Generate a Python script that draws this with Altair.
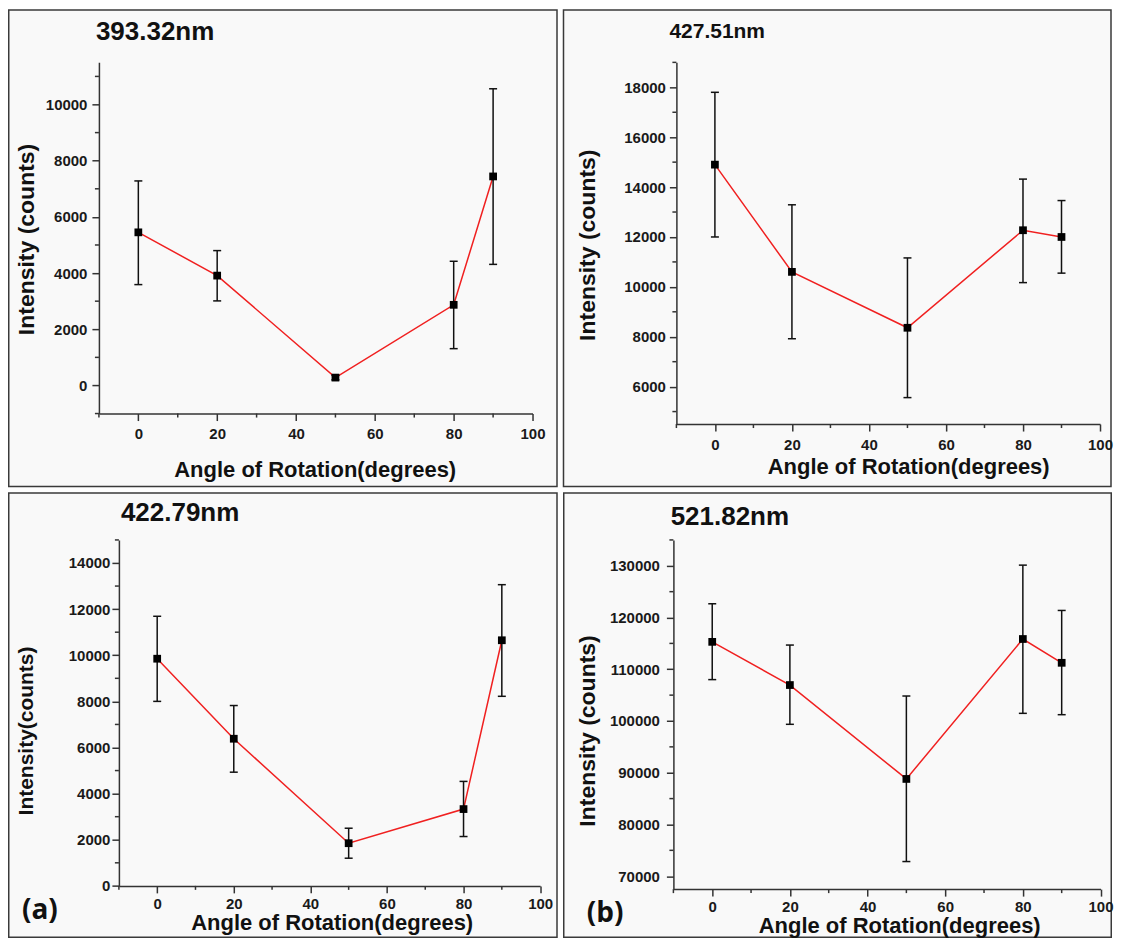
import altair as alt
import pandas as pd

# ---------------- data ----------------
angles = [0, 20, 50, 80, 90]

titles = ["393.32nm", "427.51nm", "422.79nm", "521.82nm"]
panel_tags = ["(a)", "(b)"]
x_title = "Angle of Rotation(degrees)"
y_titles = ["Intensity (counts)", "Intensity (counts)", "Intensity(counts)", "Intensity (counts)"]

mean_393 = [5450, 3910, 280, 2870, 7440]
lo_393 = [3590, 3010, 200, 1310, 4310]
hi_393 = [7280, 4800, 360, 4420, 10560]

mean_427 = [14900, 10600, 8360, 12270, 12000]
lo_427 = [12000, 7920, 5560, 10170, 10550]
hi_427 = [17800, 13290, 11160, 14320, 13460]

mean_422 = [9850, 6380, 1850, 3330, 10650]
lo_422 = [8000, 4930, 1200, 2140, 8220]
hi_422 = [11690, 7820, 2500, 4530, 13060]

mean_521 = [115300, 106950, 88800, 115850, 111250]
lo_521 = [108000, 99360, 72830, 101480, 101220]
hi_521 = [122660, 114680, 104830, 130130, 121370]

x_ticks = [0, 20, 40, 60, 80, 100]
x_minor = [-10, 10, 30, 50, 70, 90]

y_ticks_393 = [0, 2000, 4000, 6000, 8000, 10000]
y_minor_393 = [-1000, 1000, 3000, 5000, 7000, 9000, 11000]
y_ticks_427 = [6000, 8000, 10000, 12000, 14000, 16000, 18000]
y_minor_427 = [5000, 7000, 9000, 11000, 13000, 15000, 17000, 19000]
y_ticks_422 = [0, 2000, 4000, 6000, 8000, 10000, 12000, 14000]
y_minor_422 = [1000, 3000, 5000, 7000, 9000, 11000, 13000, 15000]
y_ticks_521 = [70000, 80000, 90000, 100000, 110000, 120000, 130000]
y_minor_521 = [75000, 85000, 95000, 105000, 115000, 125000, 135000]

FONT = "Liberation Sans"
INK = "#111111"
AXC = "#333333"


def panel(title, ytitle, mean, lo, hi, ydom, yticks, yminor, g, tag=None):
    W, H = g["w"], g["h"]
    ax0 = g.get("ax0", 0)  # local x of the y axis line
    df = pd.DataFrame({"angle": angles, "mean": mean, "lo": lo, "hi": hi})
    if ax0 != 0:
        xs = alt.Scale(domain=[-10, 100], nice=False, zero=False, range=[ax0, W])
    else:
        xs = alt.Scale(domain=[-10, 100], nice=False, zero=False)
    ys = alt.Scale(domain=ydom, nice=False, zero=False)
    xax = alt.Axis(values=x_ticks, title=x_title, titleX=g["xtx"], titleY=g["xty"],
                   titleBaseline="middle", titleAlign="center", labelPadding=g["xlp"],
                   zindex=1, grid=False)
    yax = alt.Axis(values=yticks, format="d", title=ytitle, titleX=g["ytx"], titleY=g["yty"],
                   titleBaseline="middle", titleAlign="center", titleFontSize=g["ytfs"],
                   labelPadding=g["ylp"], zindex=1, grid=False, offset=-ax0)
    X = alt.X("angle:Q", scale=xs, axis=xax)
    base = alt.Chart(df)
    one = alt.Chart(alt.Data(values=[{"k": 1}]))

    frame = one.mark_rect(fill="#f9f9f9", stroke="#3a3a3a", strokeWidth=1.5).encode(
        x=alt.value(g["fx"][0]), x2=alt.value(g["fx"][1]),
        y=alt.value(g["fy"][0]), y2=alt.value(g["fy"][1]))
    line = base.mark_line(color="#f02020", strokeWidth=1.5).encode(
        x=X, y=alt.Y("mean:Q", scale=ys, axis=yax))
    bars = base.mark_rule(color=INK, strokeWidth=1.5).encode(
        x=X, y=alt.Y("lo:Q", scale=ys, axis=yax), y2="hi:Q")
    cap_lo = base.mark_tick(orient="horizontal", size=8, thickness=1.5, color=INK, opacity=1).encode(
        x=X, y=alt.Y("lo:Q", scale=ys, axis=yax))
    cap_hi = base.mark_tick(orient="horizontal", size=8, thickness=1.5, color=INK, opacity=1).encode(
        x=X, y=alt.Y("hi:Q", scale=ys, axis=yax))
    pts = base.mark_square(size=60, color="#000000", opacity=1).encode(
        x=X, y=alt.Y("mean:Q", scale=ys, axis=yax))
    xmin = alt.Chart(pd.DataFrame({"mx": x_minor})).mark_rule(color=AXC, strokeWidth=1.5).encode(
        x=alt.X("mx:Q", scale=xs, axis=xax), y=alt.value(H), y2=alt.value(H + 4))
    ymin = alt.Chart(pd.DataFrame({"my": yminor})).mark_rule(color=AXC, strokeWidth=1.5).encode(
        y=alt.Y("my:Q", scale=ys, axis=yax), x=alt.value(ax0), x2=alt.value(ax0 - 4))
    ttl = one.mark_text(align="left", baseline="middle", font=FONT, fontSize=g["tfs"],
                        fontWeight="bold", color=INK).encode(
        x=alt.value(g["tx"]), y=alt.value(g["ty"]), text=alt.value(title))
    layers = [frame, line, bars, cap_lo, cap_hi, pts, xmin, ymin, ttl]
    if tag is not None:
        tg = one.mark_text(align="left", baseline="middle", font="Open Sans", fontSize=28,
                           fontWeight="bold", color=INK).encode(
            x=alt.value(g["gx"]), y=alt.value(g["gy"]), text=alt.value(tag))
        layers.append(tg)
    return alt.layer(*layers).properties(width=W, height=H)


# geometry (local pixel offsets of the decorations, relative to each plot origin)
g1 = dict(w=414, h=351.5, ax0=-20, fx=(-110.25, 438.5), fy=(-52.5, 424.5), xtx=196, xty=56,
          ytx=-72, yty=176.75, ytfs=23, xlp=6, ylp=5, tx=-23, ty=-30, tfs=26)
g2 = dict(w=424, h=362, fx=(-113, 435), fy=(-52.5, 424.5), xtx=232, xty=42,
          ytx=-89, yty=182.5, ytfs=23, xlp=6, ylp=4, tx=-7, ty=-30, tfs=21)
g3 = dict(w=421.6, h=346.25, fx=(-110.25, 438.5), fy=(-47, 397.7), xtx=213, xty=37,
          ytx=-92, yty=190.7, ytfs=21, xlp=4, ylp=2, tx=2, ty=-27.3, tfs=26, gx=-97, gy=371.7)
g4 = dict(w=427.5, h=349.5, fx=(-109.75, 438.25), fy=(-47, 397.7), xtx=226, xty=36,
          ytx=-85.75, yty=190.7, ytfs=23, xlp=3, ylp=7, tx=-2.75, ty=-23.3, tfs=26,
          gx=-86.75, gy=374.7)

p1 = panel(titles[0], y_titles[0], mean_393, lo_393, hi_393, [-1000, 11500], y_ticks_393, y_minor_393, g1)
p2 = panel(titles[1], y_titles[1], mean_427, lo_427, hi_427, [4500, 19000], y_ticks_427, y_minor_427, g2)
p3 = panel(titles[2], y_titles[2], mean_422, lo_422, hi_422, [0, 15000], y_ticks_422, y_minor_422, g3,
           tag=panel_tags[0])
p4 = panel(titles[3], y_titles[3], mean_521, lo_521, hi_521, [67500, 135000], y_ticks_521, y_minor_521, g4,
           tag=panel_tags[1])

top = alt.hconcat(p1, p2, spacing=4)
bottom = alt.hconcat(p3, p4, spacing=4)

chart = alt.vconcat(top, bottom, spacing=4).properties(
    padding={"left": 0, "top": 0, "right": 0, "bottom": 0},
    background="white",
).configure_axis(
    domainColor=AXC, domainWidth=1.5, tickColor=AXC, tickWidth=1.5, tickSize=7,
    labelFont=FONT, labelFontSize=15, labelFontWeight="bold", labelColor="#1a1a1a",
    titleFont=FONT, titleFontSize=22, titleFontWeight="bold", titleColor=INK,
    labelOverlap=False, labelFlush=False,
).configure_view(strokeWidth=0)

chart.save("out.html", embed_options={"renderer": "svg", "actions": False})
